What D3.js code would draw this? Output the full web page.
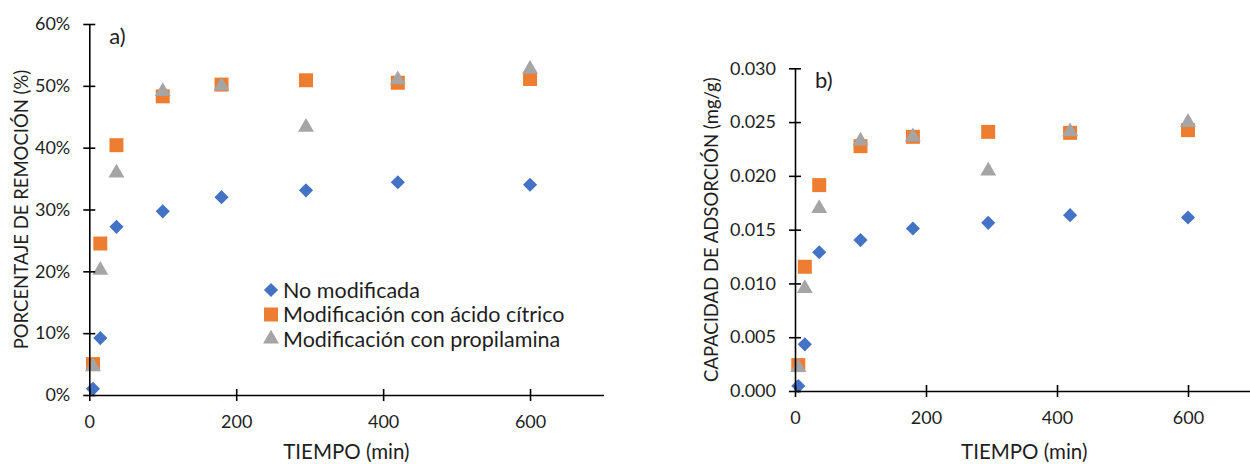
<!DOCTYPE html>
<html><head><meta charset="utf-8">
<script src="https://cdn.jsdelivr.net/npm/d3@7"></script>
<style>body{margin:0;background:#fff}svg{display:block}text{font-family:Lato,"Open Sans",sans-serif;fill:#1e1e1e}</style>
</head><body><svg id="c" width="1250" height="464"></svg>
<script>
const times = [5, 15, 37, 100, 180, 295, 420, 600];
const seriesNames = ["No modificada", "Modificación con ácido cítrico", "Modificación con propilamina"];
const removalNoMod = [0.010, 0.092, 0.272, 0.297, 0.320, 0.331, 0.344, 0.340];
const removalCitric = [0.050, 0.245, 0.404, 0.483, 0.502, 0.509, 0.505, 0.511];
const removalPropyl = [0.046, 0.202, 0.359, 0.491, 0.500, 0.433, 0.510, 0.527];
const capNoMod = [0.00046, 0.00434, 0.01290, 0.01403, 0.01511, 0.01563, 0.01635, 0.01613];
const capCitric = [0.00241, 0.01155, 0.01914, 0.02276, 0.02363, 0.02409, 0.02400, 0.02425];
const capPropyl = [0.00220, 0.00954, 0.01697, 0.02325, 0.02363, 0.02046, 0.02410, 0.02498];
const xTicks = [0, 200, 400, 600];
const yTicksA = [0, 0.1, 0.2, 0.3, 0.4, 0.5, 0.6];
const yTicksB = [0, 0.005, 0.010, 0.015, 0.020, 0.025, 0.030];

const colors = ["#4472C4", "#ED7D31", "#A5A5A5"];
const svg = d3.select("#c");

function symbolFor(i) {
  if (i === 0) return {path: d3.symbol(d3.symbolSquare, 100)(), rot: 45};
  if (i === 1) return {path: d3.symbol(d3.symbolSquare, 196)(), rot: 0};
  return {path: d3.symbol(d3.symbolTriangle, 110)(), rot: 0};
}

function panel(cfg) {
  const x = d3.scaleLinear().domain([0, 700]).range([cfg.x0, cfg.x1]);
  const y = d3.scaleLinear().domain([0, cfg.ymax]).range([cfg.y0, cfg.y1]);
  const g = svg.append("g");

  cfg.series.forEach((vals, i) => {
    const s = symbolFor(i);
    g.append("g").selectAll("path").data(vals).join("path")
      .attr("d", s.path)
      .attr("fill", colors[i])
      .attr("transform", (d, k) => `translate(${x(times[k])},${y(d)}) rotate(${s.rot})`);
  });

  const xa = g.append("g").attr("transform", `translate(0,${cfg.y0})`)
    .call(d3.axisBottom(x).tickValues(xTicks).tickSize(6).tickSizeOuter(0).tickPadding(14));
  xa.select(".domain").attr("stroke", "#000").attr("stroke-width", 1.6);
  xa.selectAll(".tick line").attr("y1", -6).attr("y2", 6).attr("stroke", "#000").attr("stroke-width", 1.6);
  xa.selectAll(".tick text").attr("font-size", 18).attr("fill", "#1e1e1e").style("font-family", "Lato");

  const ya = g.append("g").attr("transform", `translate(${cfg.x0},0)`)
    .call(d3.axisLeft(y).tickValues(cfg.yTicks).tickFormat(cfg.fmt).tickSize(6).tickSizeOuter(0).tickPadding(13));
  ya.select(".domain").attr("stroke", "#000").attr("stroke-width", 1.6);
  ya.selectAll(".tick line").attr("x1", -6).attr("x2", 6).attr("stroke", "#000").attr("stroke-width", 1.6);
  ya.selectAll(".tick text").attr("font-size", 18).attr("fill", "#1e1e1e").style("font-family", "Lato");

  g.append("text").attr("x", (cfg.x0 + cfg.x1) / 2).attr("y", 459)
    .attr("text-anchor", "middle").attr("font-size", 20.5).text("TIEMPO (min)");
  g.append("text").attr("transform", `translate(${cfg.ytx},${(cfg.y0 + cfg.y1) / 2}) rotate(-90)`)
    .attr("text-anchor", "middle").attr("font-size", 18.5).text(cfg.ytitle);
  g.append("text").attr("x", cfg.x0 + 20).attr("y", cfg.y1 + 20)
    .attr("font-size", 22).text(cfg.label);
  return {x, y, g};
}

panel({x0: 89.3, x1: 603.5, y0: 395, y1: 24, ymax: 0.6, yTicks: yTicksA, fmt: d3.format(".0%"),
  series: [removalNoMod, removalCitric, removalPropyl], ytx: 28, ytitle: "PORCENTAJE DE REMOCIÓN (%)", label: "a)"});
panel({x0: 795, x1: 1253.5, y0: 391, y1: 68.3, ymax: 0.03, yTicks: yTicksB, fmt: d3.format(".3f"),
  series: [capNoMod, capCitric, capPropyl], ytx: 718, ytitle: "CAPACIDAD DE ADSORCIÓN (mg/g)", label: "b)"});

const leg = svg.append("g");
seriesNames.forEach((name, i) => {
  const yy = 290 + i * 24.5;
  const s = symbolFor(i);
  leg.append("path").attr("d", s.path).attr("fill", colors[i])
    .attr("transform", `translate(271,${yy}) rotate(${s.rot})`);
  leg.append("text").attr("x", 283).attr("y", yy).attr("dy", "0.35em")
    .attr("font-size", 21.5).text(name);
});
</script></body></html>
